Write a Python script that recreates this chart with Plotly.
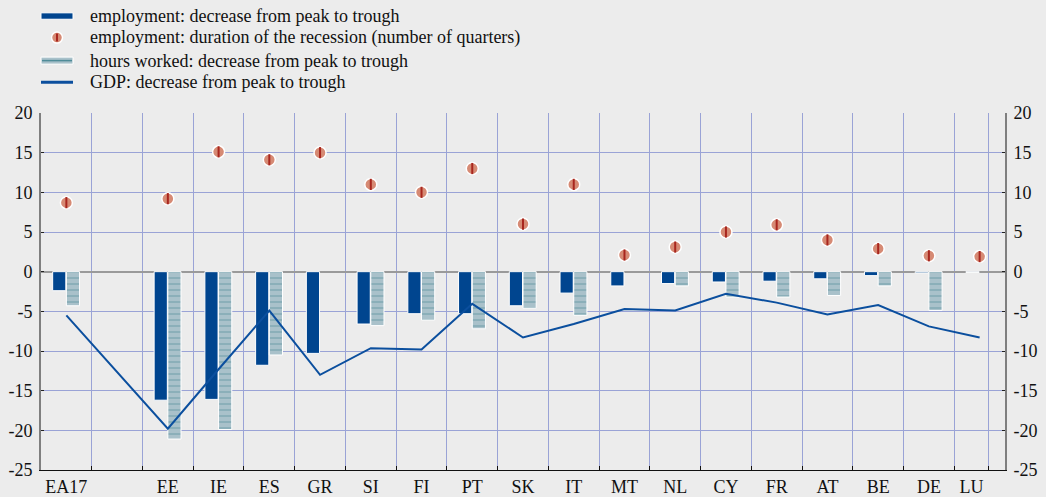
import plotly.graph_objects as go

categories = ["EA17", "", "EE", "IE", "ES", "GR", "SI", "FI", "PT", "SK", "IT",
              "MT", "NL", "CY", "FR", "AT", "BE", "DE", "LU"]
emp_decrease = [-2.4, None, -16.2, -16.1, -11.8, -10.3, -6.6, -5.3, -5.3, -4.3, -2.7,
                -1.8, -1.5, -1.3, -1.2, -0.9, -0.5, -0.15, -0.1]
duration = [8.7, None, 9.2, 15.1, 14.1, 15.0, 11.0, 10.0, 13.0, 6.0, 11.0,
            2.1, 3.1, 5.0, 5.9, 4.0, 2.9, 2.0, 1.9]
hours_decrease = [-4.3, None, -21.1, -19.9, -10.5, None, -6.8, -6.1, -7.2, -4.6, -5.5,
                  None, -1.8, -3.2, -3.2, -3.0, -1.8, -4.9, None]
gdp_decrease = [-5.5, None, -19.8, -12.3, -4.9, -13.0, -9.65, -9.8, -4.05, -8.3, -6.6,
                -4.7, -4.9, -2.8, -3.9, -5.4, -4.2, -6.9, -8.3]
y_ticks = [20, 15, 10, 5, 0, -5, -10, -15, -20, -25]
y_ticktext = [str(v) for v in y_ticks]  # plain hyphen, as in the source
legend_labels = [
    "employment: decrease from peak to trough",
    "employment: duration of the recession (number of quarters)",
    "hours worked: decrease from peak to trough",
    "GDP: decrease from peak to trough",
]

FONT = "Liberation Serif, Times New Roman, Times, serif"
BG = "#ECECEC"
GRID = "#9AA3D6"
DARK_BLUE = "#00458F"
LINE_BLUE = "#0B4F9E"
HOURS_BG = "#A9C1CA"
HOURS_FG = "#4F8C98"
DOT_FILL = "#D68A74"
DOT_STRIPE = "#A8261E"

# figure geometry (body margin removed by post_script, so no page offset)
FIG_W, FIG_H = 1046, 497
PLOT_L, PLOT_R, PLOT_T, PLOT_B = 41, 1005, 113.3, 469.7  # pixels

xpos = list(range(len(categories)))
x_min, x_max = -0.5, len(categories) - 0.5
last_edge = len(categories) - 1 + 0.18  # odd last boundary of the source chart

fig = go.Figure()

fig.add_trace(go.Bar(
    x=xpos, y=emp_decrease, width=0.26, offset=-0.27, showlegend=False,
    marker=dict(color=DARK_BLUE, line=dict(color="white", width=1)),
    name=legend_labels[0],
))
fig.add_trace(go.Bar(
    x=xpos, y=hours_decrease, width=0.26, offset=0.0, showlegend=False,
    marker=dict(color=HOURS_BG, line=dict(color="white", width=1),
                pattern=dict(shape="-", fgcolor=HOURS_FG, bgcolor=HOURS_BG,
                             size=6, solidity=0.22)),
    name=legend_labels[2],
))
fig.add_trace(go.Scatter(
    x=xpos, y=gdp_decrease, mode="lines", connectgaps=True, showlegend=False,
    line=dict(color=LINE_BLUE, width=2),
    name=legend_labels[3],
))
fig.add_trace(go.Scatter(
    x=xpos, y=duration, mode="markers", yaxis="y2", showlegend=False,
    marker=dict(symbol="circle", size=12, color=DOT_FILL,
                line=dict(color="white", width=1.5)),
    name=legend_labels[1],
))
fig.add_trace(go.Scatter(
    x=xpos, y=duration, mode="markers", yaxis="y2", showlegend=False,
    hoverinfo="skip",
    marker=dict(symbol="line-ns", size=8, color=DOT_STRIPE,
                line=dict(color=DOT_STRIPE, width=2)),
))

# ---- manual legend (drawn in paper coordinates from pixels) ----
def px(sx):
    return (sx - PLOT_L) / (PLOT_R - PLOT_L)


def py(sy):
    return (PLOT_B - sy) / (PLOT_B - PLOT_T)


rows = [16.5, 38.0, 61.0, 82.6]
sym_x0, sym_x1, text_x = 41, 73, 88
shapes = [
    dict(type="rect", xref="paper", yref="paper", x0=px(sym_x0), x1=px(sym_x1),
         y0=py(rows[0] - 3.2), y1=py(rows[0] + 3.2),
         fillcolor=DARK_BLUE, line=dict(color="white", width=1)),
    dict(type="circle", xref="paper", yref="paper", x0=px(51.5), x1=px(62.5),
         y0=py(rows[1] - 5.5), y1=py(rows[1] + 5.5),
         fillcolor=DOT_FILL, line=dict(color="white", width=1.5)),
    dict(type="line", xref="paper", yref="paper", x0=px(57), x1=px(57),
         y0=py(rows[1] - 4), y1=py(rows[1] + 4), line=dict(color=DOT_STRIPE, width=2)),
    dict(type="rect", xref="paper", yref="paper", x0=px(sym_x0), x1=px(sym_x1),
         y0=py(rows[2] - 3.5), y1=py(rows[2] + 3.5),
         fillcolor=HOURS_BG, line=dict(color="white", width=1)),
    dict(type="line", xref="paper", yref="paper", x0=px(sym_x0 + 1), x1=px(sym_x1 - 1),
         y0=py(rows[2]), y1=py(rows[2]), line=dict(color=HOURS_FG, width=1.5)),
    dict(type="line", xref="paper", yref="paper", x0=px(sym_x0), x1=px(sym_x1),
         y0=py(rows[3]), y1=py(rows[3]), line=dict(color=LINE_BLUE, width=3)),
]
annotations = [
    dict(text=lab, xref="paper", yref="paper", x=px(text_x), y=py(r),
         xanchor="left", yanchor="middle", showarrow=False,
         font=dict(family=FONT, size=18, color="#111"))
    for lab, r in zip(legend_labels, rows)
]

tickvals = [i for i, c in enumerate(categories) if c and i != len(categories) - 1]
ticktext = [categories[i] for i in tickvals]
tickvals.append((len(categories) - 1.5 + last_edge) / 2)
ticktext.append(categories[-1])
boundaries = [i + 0.5 for i in range(len(categories) - 1)] + [last_edge]

yaxis_common = dict(
    range=[-25, 20], tickmode="array", tickvals=y_ticks, ticktext=y_ticktext,
    ticks="inside", ticklen=3, tickcolor="#222",
    showline=True, linecolor="#7F7F7F", linewidth=2,
    tickfont=dict(family=FONT, size=18, color="#111"), ticklabelstandoff=3,
    automargin=False,
)

fig.update_layout(
    width=FIG_W, height=FIG_H,
    paper_bgcolor=BG, plot_bgcolor=BG,
    margin=dict(l=PLOT_L, r=FIG_W - PLOT_R, t=PLOT_T, b=FIG_H - PLOT_B,
                autoexpand=False),
    barmode="overlay",
    font=dict(family=FONT, size=18, color="#111"),
    showlegend=False,
    shapes=shapes,
    annotations=annotations,
    xaxis=dict(
        range=[x_min, x_max], tickmode="array", tickvals=tickvals, ticktext=ticktext,
        ticks="", showgrid=False, zeroline=False, tickangle=0, automargin=False,
        showline=True, linecolor="#111", linewidth=1,
        tickfont=dict(family=FONT, size=18, color="#111"),
        minor=dict(tickvals=boundaries, showgrid=True, gridcolor=GRID, gridwidth=1,
                   ticks="inside", ticklen=4, tickcolor="#111"),
    ),
    yaxis=dict(**yaxis_common, side="left", showgrid=True, gridcolor=GRID, gridwidth=1,
               zeroline=True, zerolinecolor="#9A9A9A", zerolinewidth=1.5),
    yaxis2=dict(**yaxis_common, side="right", overlaying="y", showgrid=False,
                zeroline=False),
)

fig.write_html(
    "out.html",
    config={"displayModeBar": False},
    post_script="document.body.style.margin='0';document.body.style.background='#ECECEC';",
)
